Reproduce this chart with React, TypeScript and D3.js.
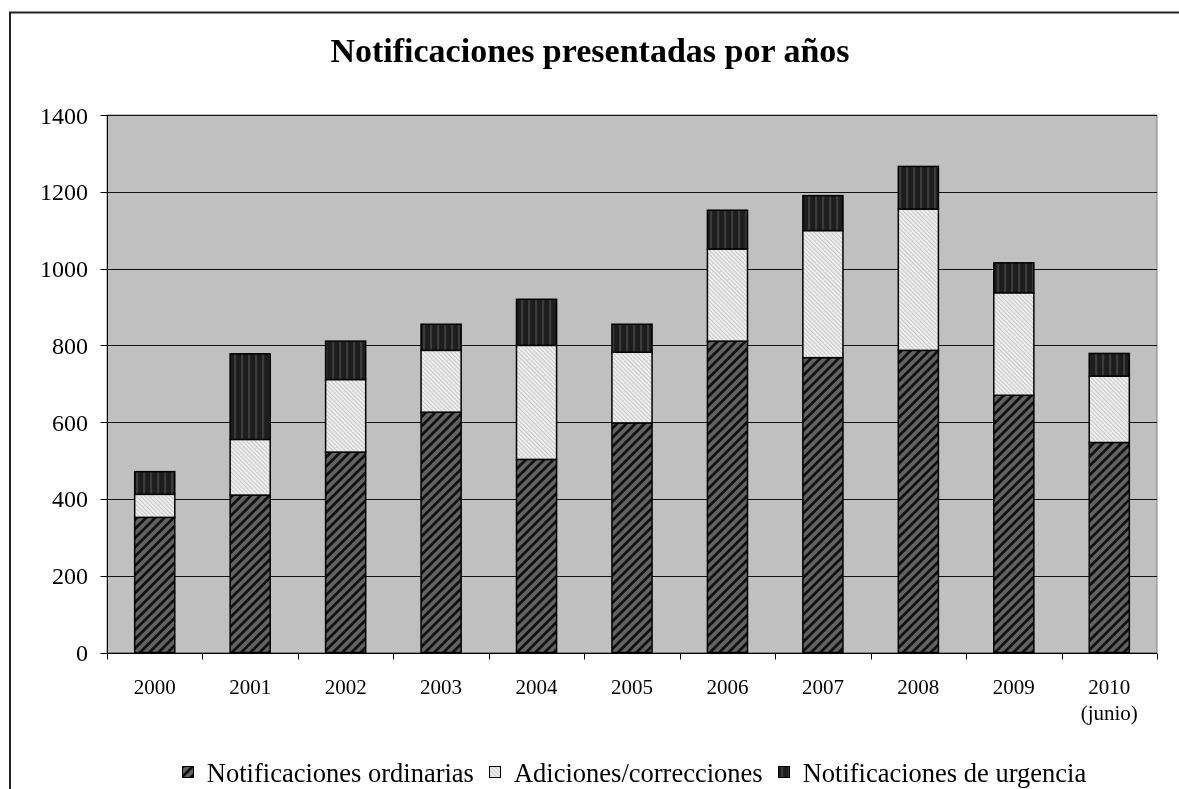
import React, { useEffect, useRef } from 'react';
import * as d3 from 'd3';

// Values
const years = ['2000', '2001', '2002', '2003', '2004', '2005', '2006', '2007', '2008', '2009', '2010'];
const yearNotes = ['', '', '', '', '', '', '', '', '', '', '(junio)'];
const ordinarias = [352, 410, 522, 626, 503, 598, 811, 768, 787, 670, 547];
const adiciones = [60, 145, 189, 161, 297, 184, 240, 331, 368, 267, 173];
const urgencia = [59, 223, 100, 68, 120, 73, 101, 91, 111, 78, 59];
const seriesNames = ['Notificaciones ordinarias', 'Adiciones/correcciones', 'Notificaciones de urgencia'];
const yTicks = [0, 200, 400, 600, 800, 1000, 1200, 1400];
const title = 'Notificaciones presentadas por años';

const FONT = '"Liberation Serif"';
const fills = ['url(#pOrd)', 'url(#pAdd)', 'url(#pUrg)'];

const App = () => {
  const ref = useRef<SVGGElement>(null);
  const width = 1179;
  const height = 789;
  const margin = { top: 115, right: 22, bottom: 136, left: 107 };

  useEffect(() => {
    const svg = d3.select(ref.current);
    svg.selectAll('*').remove();

    const defs = svg.append('defs');

    // Pattern fills
    const pOrd = defs.append('pattern')
      .attr('id', 'pOrd')
      .attr('patternUnits', 'userSpaceOnUse')
      .attr('width', 6.5).attr('height', 6.5)
      .attr('patternTransform', 'rotate(45)');
    pOrd.append('rect').attr('width', 6.5).attr('height', 6.5).attr('fill', '#626262');
    pOrd.append('rect').attr('width', 2.8).attr('height', 6.5).attr('fill', '#111');

    const pAdd = defs.append('pattern')
      .attr('id', 'pAdd')
      .attr('patternUnits', 'userSpaceOnUse')
      .attr('width', 3).attr('height', 3)
      .attr('patternTransform', 'rotate(-45)');
    pAdd.append('rect').attr('width', 3).attr('height', 3).attr('fill', '#f0f0f0');
    pAdd.append('rect').attr('width', 1.1).attr('height', 3).attr('fill', '#c8c8c8');

    const pUrg = defs.append('pattern')
      .attr('id', 'pUrg')
      .attr('patternUnits', 'userSpaceOnUse')
      .attr('width', 7).attr('height', 7);
    pUrg.append('rect').attr('width', 7).attr('height', 7).attr('fill', '#1d1d1d');
    pUrg.append('rect').attr('x', 3).attr('width', 2.2).attr('height', 7).attr('fill', '#3b3b3b');

    // Outer frame
    svg.append('rect')
      .attr('x', 10).attr('y', 12.5)
      .attr('width', 1300).attr('height', 900)
      .attr('fill', 'none')
      .attr('stroke', '#222')
      .attr('stroke-width', 2);

    const x = d3.scaleBand()
      .domain(years)
      .range([margin.left, width - margin.right])
      .padding(0);

    const y = d3.scaleLinear()
      .domain([0, 1400])
      .range([height - margin.bottom - 0.5, margin.top]);

    // Plot area
    svg.append('rect')
      .attr('x', margin.left).attr('y', y(1400))
      .attr('width', width - margin.right - margin.left)
      .attr('height', y(0) - y(1400))
      .attr('fill', '#c0c0c0')
      .attr('stroke', '#808080');

    // Gridlines
    svg.append('g')
      .selectAll('line')
      .data(yTicks.filter(d => d > 0))
      .join('line')
      .attr('x1', margin.left).attr('x2', width - margin.right)
      .attr('y1', d => Math.round(y(d)) + 0.5).attr('y2', d => Math.round(y(d)) + 0.5)
      .attr('stroke', '#111');

    // Stacked bars
    const stackData = years.map((yr, i) => ({ year: yr, ord: ordinarias[i], add: adiciones[i], urg: urgencia[i] }));
    const stack = d3.stack<any>().keys(['ord', 'add', 'urg'])(stackData);
    const barW = x.bandwidth() * 0.42;

    stack.forEach((layer, li) => {
      svg.append('g')
        .selectAll('rect')
        .data(layer)
        .join('rect')
        .attr('x', d => x(d.data.year)! + (x.bandwidth() - barW) / 2)
        .attr('y', d => y(d[1]))
        .attr('width', barW)
        .attr('height', d => y(d[0]) - y(d[1]))
        .attr('fill', fills[li])
        .attr('stroke', '#000')
        .attr('stroke-width', 1.5);
    });

    // Axes
    const x0 = margin.left + 0.5;
    const yBase = Math.round(y(0)) + 0.5;
    svg.append('line')
      .attr('x1', x0).attr('x2', x0)
      .attr('y1', y(1400)).attr('y2', yBase)
      .attr('stroke', '#000');
    svg.append('line')
      .attr('x1', margin.left).attr('x2', width - margin.right)
      .attr('y1', yBase).attr('y2', yBase)
      .attr('stroke', '#000');

    svg.append('g')
      .selectAll('line')
      .data(yTicks)
      .join('line')
      .attr('x1', x0 - 7).attr('x2', x0)
      .attr('y1', d => Math.round(y(d)) + 0.5).attr('y2', d => Math.round(y(d)) + 0.5)
      .attr('stroke', '#000');

    svg.append('g')
      .selectAll('text')
      .data(yTicks)
      .join('text')
      .attr('x', 88)
      .attr('y', d => y(d) + 8.5)
      .attr('text-anchor', 'end')
      .style('font-family', FONT)
      .style('font-size', '24px')
      .attr('fill', '#000')
      .text(d => d);

    const bounds = [...years.map(yr => x(yr)!), width - margin.right];
    svg.append('g')
      .selectAll('line')
      .data(bounds)
      .join('line')
      .attr('x1', d => Math.round(d) + 0.5).attr('x2', d => Math.round(d) + 0.5)
      .attr('y1', yBase).attr('y2', yBase + 6)
      .attr('stroke', '#000');

    const xl = svg.append('g')
      .selectAll('text')
      .data(years)
      .join('text')
      .attr('text-anchor', 'middle')
      .style('font-family', FONT)
      .style('font-size', '21px')
      .attr('fill', '#000');
    xl.append('tspan')
      .attr('x', d => x(d)! + x.bandwidth() / 2)
      .attr('y', 694)
      .text(d => d);
    xl.append('tspan')
      .attr('x', d => x(d)! + x.bandwidth() / 2)
      .attr('y', 720)
      .text((d, i) => yearNotes[i]);

    // Title
    svg.append('text')
      .attr('x', 590)
      .attr('y', 62)
      .attr('text-anchor', 'middle')
      .style('font-family', FONT)
      .style('font-weight', 'bold')
      .style('font-size', '34px')
      .attr('fill', '#000')
      .text(title);
  }, []);

  return (
    <div style={{ position: 'absolute', left: 0, top: 0, willChange: 'transform' }}>
      <svg
        width={width}
        height={height}
        style={{ display: 'block', background: '#fff' }}
      >
        <g ref={ref} />
        {/* legend laid out as html so the items center themselves */}
        <foreignObject x={89} y={760} width={1090} height={29}>
          <div
            style={{
              display: 'flex',
              justifyContent: 'center',
              fontFamily: FONT,
              fontSize: '26.5px',
              lineHeight: '26.5px',
              whiteSpace: 'nowrap',
              color: '#000',
            }}
          >
            {seriesNames.map((name, i) => (
              <span key={name} style={{ marginLeft: i === 0 ? 0 : 15 }}>
                <svg width={12} height={12} style={{ verticalAlign: '4px', marginRight: 13, overflow: 'visible' }}>
                  <rect x={0.5} y={0.5} width={11} height={11} fill={fills[i]} stroke="#000" />
                </svg>
                {name}
              </span>
            ))}
          </div>
        </foreignObject>
      </svg>
    </div>
  );
};

export default App;
